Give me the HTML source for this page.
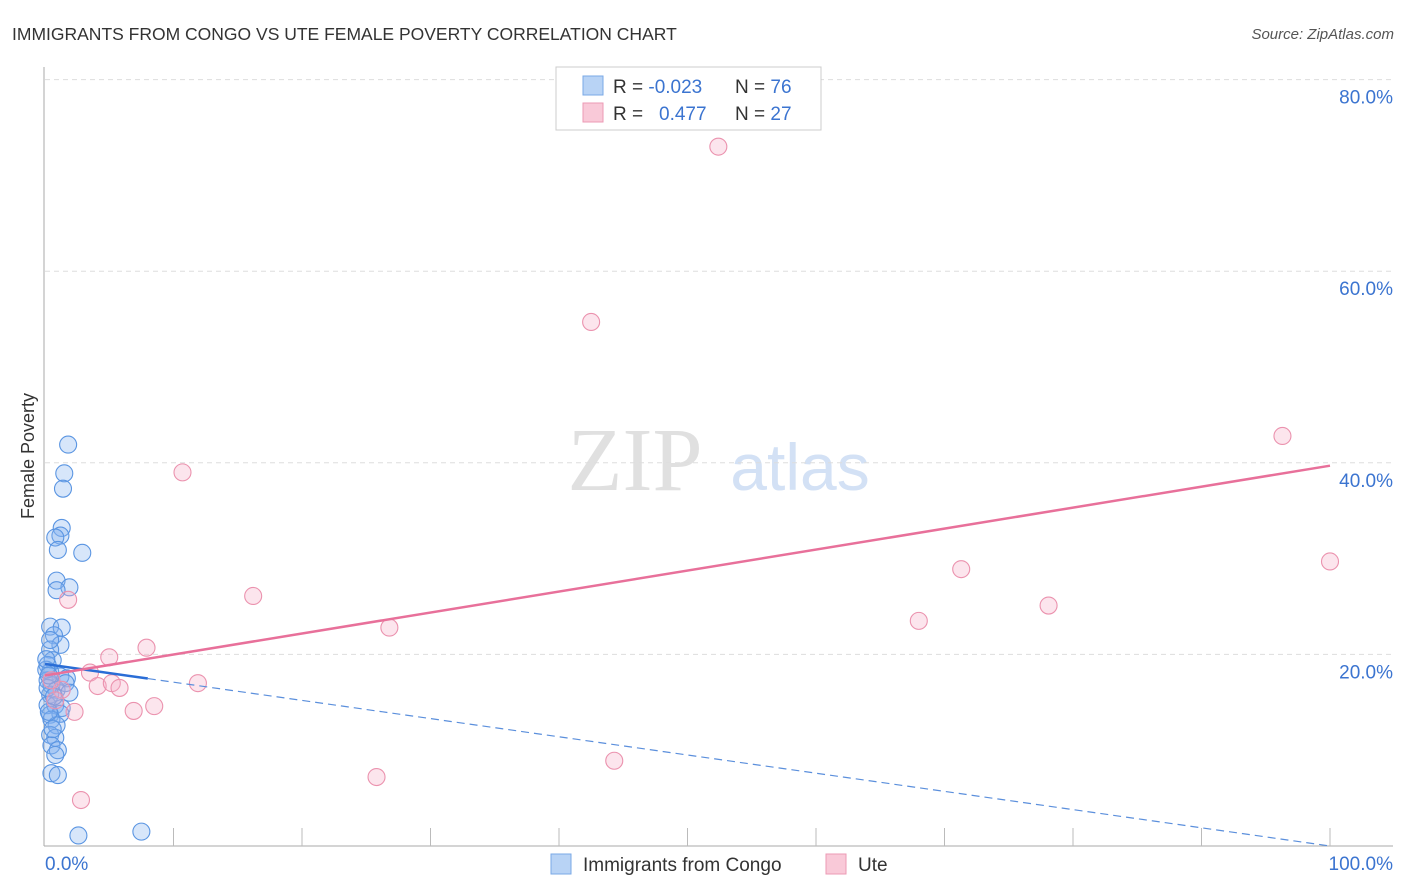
<!DOCTYPE html>
<html><head><meta charset="utf-8"><style>
body{margin:0;background:#fff;font-family:"Liberation Sans",sans-serif;}
svg{display:block}
</style></head><body>
<svg id="chart" width="1406" height="892">
<text x="12" y="40" font-size="17.5" fill="#333">IMMIGRANTS FROM CONGO VS UTE FEMALE POVERTY CORRELATION CHART</text>
<text x="1394" y="39" font-size="15" fill="#555" font-style="italic" text-anchor="end">Source: ZipAtlas.com</text>
<text x="34" y="456" font-size="18" fill="#333" text-anchor="middle" transform="rotate(-90 34 456)">Female Poverty</text>
<g><text x="635" y="490" font-size="90" fill="#e0e0e0" font-family="Liberation Serif,serif" text-anchor="middle">ZIP</text><text x="800" y="490" font-size="66" fill="#d3e1f5" text-anchor="middle">atlas</text></g>
<g id="grid"></g><g id="marks"></g>
<g>
<rect x="556" y="67" width="265" height="63" fill="#fff" stroke="#ccc"/>
<rect x="583" y="76" width="20" height="19" fill="#b8d3f5" stroke="#7aa8e6"/>
<rect x="583" y="103" width="20" height="19" fill="#f9c9d8" stroke="#ec9ab4"/>
<text x="613" y="93" font-size="19" fill="#333">R = <tspan fill="#3b74d0">-0.023</tspan><tspan x="735">N = </tspan><tspan fill="#3b74d0">76</tspan></text>
<text x="613" y="120" font-size="19" fill="#333">R = <tspan x="659" fill="#3b74d0">0.477</tspan><tspan x="735">N = </tspan><tspan fill="#3b74d0">27</tspan></text>
</g>
<g>
<rect x="551" y="854" width="20" height="20" fill="#b8d3f5" stroke="#7aa8e6"/>
<text x="583" y="871" font-size="19" fill="#333">Immigrants from Congo</text>
<rect x="826" y="854" width="20" height="20" fill="#f9c9d8" stroke="#ec9ab4"/>
<text x="858" y="871" font-size="19" fill="#333">Ute</text>
</g>
</svg>
<script>
const blueX=[1.8,1.5,1.4,1.3,1.2,0.8,1.0,2.9,0.9,1.9,0.9,0.4,1.3,0.7,1.2,0.4,0.6,0.2,0.4,1.2,1.7,0.2,0.5,0.9,0.4,0.2,0.8,1.3,0.4,1.2,0.5,0.9,0.4,0.8,0.5,1.0,0.8,0.5,1.0,2.6,7.5,0.1,0.2,0.7,0.1,0.4,1.6,1.9,0.3,0.6,0.3];
const blueY=[41.9,38.9,37.3,33.2,32.4,32.2,30.9,30.6,27.7,27.0,26.7,22.9,22.8,22.0,21.0,20.5,19.4,18.9,18.2,17.7,17.5,17.3,16.8,16.3,15.8,14.7,14.7,14.4,13.7,13.8,13.2,12.6,11.6,11.3,10.5,10.0,9.5,7.6,7.4,1.1,1.5,18.4,16.5,15.6,19.5,21.5,17.0,16.0,14.0,12.2,17.8];
const pinkX=[1.8,10.7,5.0,7.9,3.5,4.1,5.2,5.8,1.3,11.9,2.3,6.9,8.5,2.8,16.2,26.8,25.8,42.5,44.3,52.4,68.0,71.3,78.1,96.3,100,0.5,0.8];
const pinkY=[25.7,39.0,19.7,20.7,18.1,16.7,17.0,16.5,16.3,17.0,14.0,14.1,14.6,4.8,26.1,22.8,7.2,54.7,8.9,73.0,23.5,28.9,25.1,42.8,29.7,17.3,15.2];
const blueTrend=[19.0,0.0];
const pinkTrend=[17.8,39.7];
const yTicks=[20,40,60,80];
const xTickVals=[0,10,20,30,40,50,60,70,80,90,100];
const NS='http://www.w3.org/2000/svg';
const X=v=>45+v*12.85, Y=v=>846-v*9.58;
function mk(t,a,p){const e=document.createElementNS(NS,t);for(const k in a)e.setAttribute(k,a[k]);p.appendChild(e);return e;}
const g=document.getElementById('grid'),m=document.getElementById('marks');
yTicks.forEach(t=>{
 const l=mk('line',{x1:45,x2:1393,y1:Y(t),y2:Y(t),stroke:'#ddd','stroke-dasharray':'5,4'},g);
 
 
 const tx=mk('text',{x:1393,y:Y(t)+24,'font-size':19,fill:'#3b74d0','text-anchor':'end'},g);tx.textContent=t.toFixed(1)+'%';
 
 
});
let ax=mk('line',{x1:44,x2:44,y1:67,y2:846,stroke:'#aaa'},g);


ax=mk('line',{x1:44,x2:1393,y1:846,y2:846,stroke:'#aaa'},g);


xTickVals.slice(1).forEach(t=>{const l=mk('line',{x1:X(t),x2:X(t),y1:828,y2:846,stroke:'#bbb'},g);
 
 });
let t0=mk('text',{x:45,y:870,'font-size':19,fill:'#3b74d0'},g);t0.textContent=xTickVals[0].toFixed(1)+'%';


t0=mk('text',{x:1393,y:870,'font-size':19,fill:'#3b74d0','text-anchor':'end'},g);t0.textContent=xTickVals[10].toFixed(1)+'%';


blueX.forEach((x,i)=>{const c=mk('circle',{cx:X(x),cy:Y(blueY[i]),r:8.5,fill:'rgba(130,178,238,0.32)',stroke:'#5a95e2','stroke-width':1.1},m);
 
 });
pinkX.forEach((x,i)=>{const c=mk('circle',{cx:X(x),cy:Y(pinkY[i]),r:8.5,fill:'rgba(245,175,198,0.32)',stroke:'#eb92ae','stroke-width':1.1},m);
 
 });
const by=x=>blueTrend[0]+(blueTrend[1]-blueTrend[0])*x/100;
let l=mk('line',{x1:X(0),y1:Y(by(0)),x2:X(8),y2:Y(by(8)),stroke:'#2a6dd6','stroke-width':2.5},m);


l=mk('line',{x1:X(8),y1:Y(by(8)),x2:X(100),y2:Y(by(100)),stroke:'#5b8fdc','stroke-width':1.2,'stroke-dasharray':'8,5'},m);


l=mk('line',{x1:X(0),y1:Y(pinkTrend[0]),x2:X(100),y2:Y(pinkTrend[1]),stroke:'#e8709a','stroke-width':2.5},m);


</script>
</body></html>
